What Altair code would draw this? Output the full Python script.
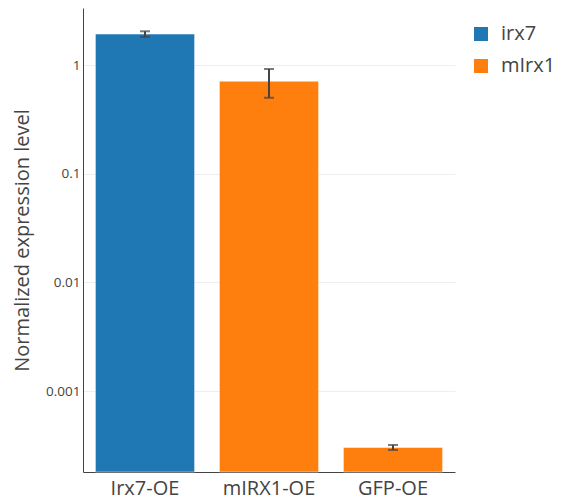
import altair as alt
import pandas as pd

categories = ["Irx7-OE", "mIRX1-OE", "GFP-OE"]
series = ["irx7", "mIrx1", "mIrx1"]
values = [1.93, 0.71, 0.000303]
errors = [0.115, 0.21, 0.000016]
y_ticks = [0.001, 0.01, 0.1, 1]
y_domain = [0.00018, 3.35]

df = pd.DataFrame({
    "cat": categories,
    "series": series,
    "value": values,
    "lo": [v - e for v, e in zip(values, errors)],
    "hi": [v + e for v, e in zip(values, errors)],
})

font = "Open Sans"
W, H = 372, 464

x = alt.X("cat:N", sort=categories, title=None,
          scale=alt.Scale(paddingInner=0.2, paddingOuter=0.1),
          axis=alt.Axis(labelAngle=0, labelFontSize=20, labelColor="#444",
                        labelFont=font, ticks=False, labelPadding=6,
                        domainColor="#444", domainWidth=1, grid=False))

yscale = alt.Scale(type="log", domain=y_domain, nice=False, clamp=True)

base = alt.Chart(df)

bars = base.mark_bar(stroke="white", strokeWidth=0.5).encode(
    x=x,
    y=alt.Y("value:Q", scale=yscale, title="Normalized expression level",
            axis=alt.Axis(values=y_ticks, labelExpr="format(datum.value, '~g')",
                          labelFontSize=13.5, labelColor="#444", labelFont=font,
                          ticks=False, labelPadding=3,
                          grid=True, gridColor="#eeeeee", gridWidth=1,
                          domainColor="#444", domainWidth=1,
                          titleFont=font, titleFontSize=20, titleColor="#444",
                          titleFontWeight="normal",
                          titleX=-61, titleY=H / 2, titleBaseline="middle",
                          titleAngle=270)),
    y2=alt.datum(y_domain[0]),
    color=alt.Color("series:N",
                    scale=alt.Scale(domain=["irx7", "mIrx1"], range=["#1f77b4", "#ff7f0e"]),
                    legend=alt.Legend(title=None, orient="none", legendX=388, legendY=16,
                                      symbolType="square", symbolSize=196,
                                      symbolStrokeWidth=0, labelFontSize=20,
                                      labelFont=font, labelColor="#444",
                                      labelOffset=10, rowPadding=12, padding=0)),
)

rules = base.mark_rule(color="#444", strokeWidth=2).encode(
    x=alt.X("cat:N", sort=categories),
    y=alt.Y("lo:Q", scale=yscale),
    y2="hi:Q",
)
tick_lo = base.mark_tick(color="#444", thickness=2, size=10, orient="horizontal").encode(
    x=alt.X("cat:N", sort=categories),
    y=alt.Y("lo:Q", scale=yscale),
)
tick_hi = base.mark_tick(color="#444", thickness=2, size=10, orient="horizontal").encode(
    x=alt.X("cat:N", sort=categories),
    y=alt.Y("hi:Q", scale=yscale),
)

chart = alt.layer(bars, rules, tick_lo, tick_hi).properties(
    width=W, height=H,
    autosize=alt.AutoSizeParams(type="none"),
    padding={"left": 75, "top": 0, "right": 104, "bottom": 29},
).configure_view(stroke=None)

chart.save("out.html", embed_options={"renderer": "svg", "actions": False})
